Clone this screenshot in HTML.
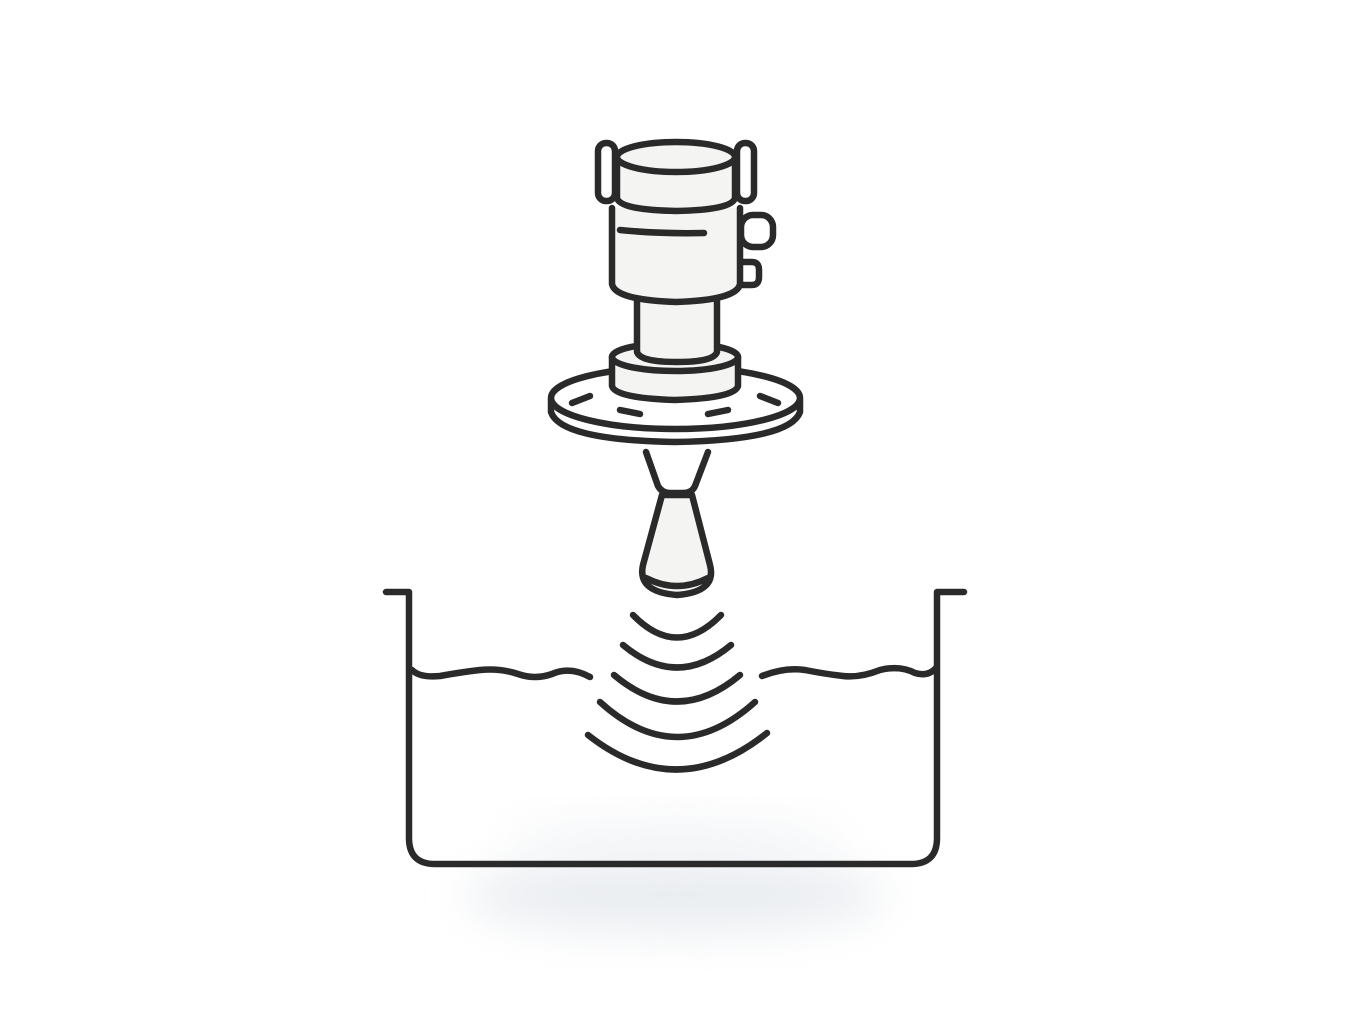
<!DOCTYPE html>
<html><head><style>
html,body{margin:0;padding:0;background:#fff;}
svg{display:block;}
</style></head><body>
<svg width="1360" height="1010" viewBox="0 0 1360 1010" xmlns="http://www.w3.org/2000/svg">
<defs>
<filter id="blur" x="-50%" y="-50%" width="200%" height="200%"><feGaussianBlur stdDeviation="22"/></filter>
</defs>
<ellipse cx="675" cy="895" rx="210" ry="38" fill="#e3e7ec" filter="url(#blur)" opacity="0.75"/>
<ellipse cx="675" cy="840" rx="170" ry="22" fill="#eef0f3" filter="url(#blur)" opacity="0.6"/>
<g fill="none" stroke="#2a2a2a" stroke-width="6.5" stroke-linecap="round" stroke-linejoin="round">
<path d="M386 592 H409 V838 Q409 864 435 864 H911 Q937 864 937 838 V592 H964" fill="none"/>
<path d="M412 670 Q420 678 440 676 Q462 672 480 670 Q500 668 518 674 Q535 680 552 674 Q570 666 590 677"/>
<path d="M762 676 Q785 667 805 670 Q825 674 843 676 Q860 678 880 670 Q900 665 915 673 Q928 677 936 668"/>
<path d="M633 615 Q677 660 721 615"/>
<path d="M623 645 Q677 690 731 645"/>
<path d="M614 675 Q677 728 740 675"/>
<path d="M600 702 Q677 772 755 702"/>
<path d="M588 735 Q677 805 767 733"/>
<path d="M646 452 L658 486 Q662 493 670 493 L683 493 Q692 493 695 486 L708 452"/>
<path d="M662 495 L643 565 Q637 592 677 595 Q717 592 710 565 L692 495 Z" fill="#f4f4f2"/>
<path d="M646 578 Q677 594 708 578"/>
<path d="M551 400 V412 Q560 440 675 442 Q790 440 800 412 V400" fill="#fff"/>
<ellipse cx="675.5" cy="398" rx="124.5" ry="31" fill="#fff"/>
<path d="M572 403 L590 396"/><path d="M620 410 L640 414"/>
<path d="M708 414 L728 410"/><path d="M760 396 L778 403"/>
<path d="M612 357 V386 Q615 398 675 400 Q735 398 738 386 V357" fill="#f4f4f2"/>
<ellipse cx="675" cy="357" rx="63" ry="14" fill="#f4f4f2"/>
<path d="M637 298 V352 Q640 362 677 362 Q714 362 717 352 V298" fill="#f4f4f2"/>
<rect x="741" y="215" width="32" height="32" rx="12" fill="#fff"/>
<path d="M742 262 H752 Q759 262 759 270 V277 Q759 285 752 285 H742" fill="#fff"/>
<path d="M612 208 V284 Q615 300 676 302 Q737 300 740 284 V208" fill="#f4f4f2"/>
<path d="M620 230 Q660 234 704 233"/>
<rect x="598" y="143" width="17" height="58" rx="8" fill="#fff"/>
<rect x="737" y="143" width="17" height="58" rx="8" fill="#fff"/>
<path d="M617 160 V198 Q620 210 676 211 Q732 210 735 198 V160" fill="#f4f4f2"/>
<ellipse cx="676" cy="157" rx="59" ry="15" fill="#f4f4f2"/>
</g>
</svg>
</body></html>
